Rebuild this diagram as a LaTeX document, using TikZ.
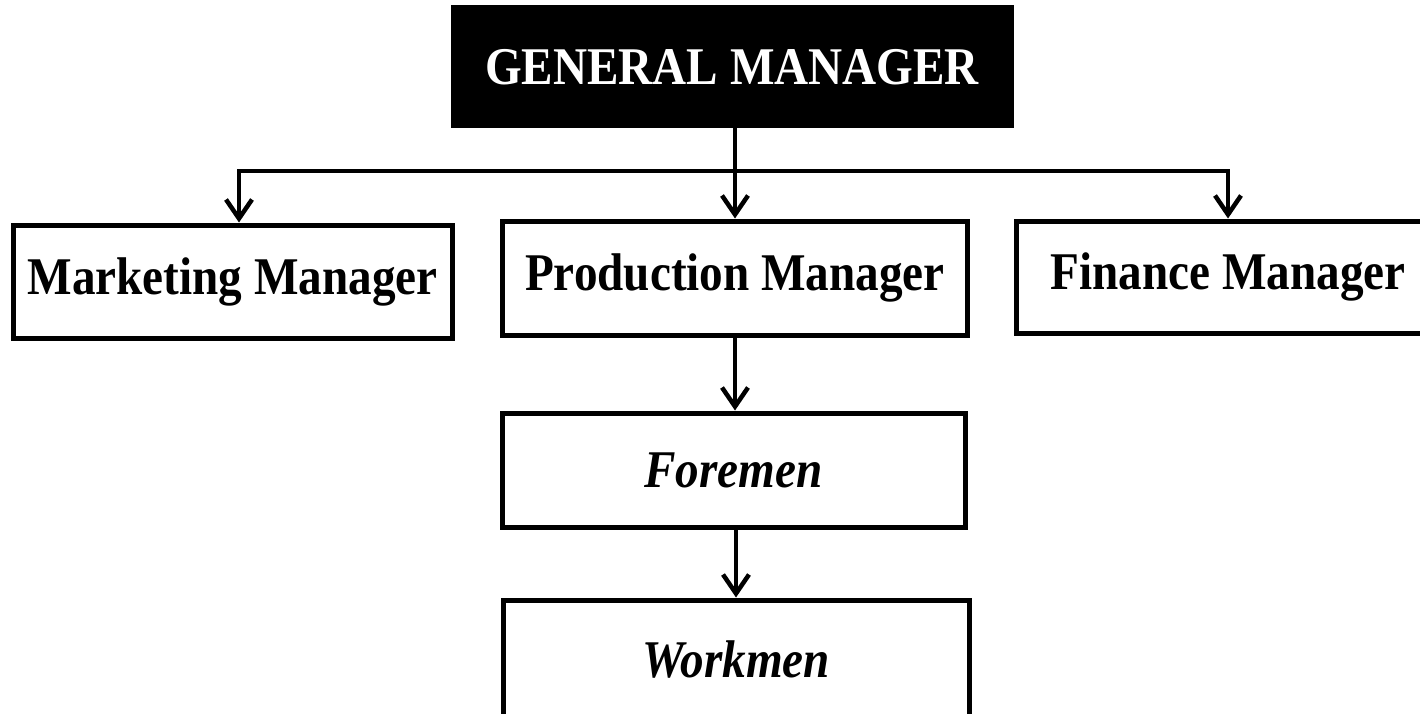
\documentclass[tikz,border=0pt]{standalone}
\usepackage{fontspec}
\setmainfont{Liberation Serif}[FakeStretch=0.89]
\usetikzlibrary{arrows.meta}
\begin{document}
\begin{tikzpicture}[x=1pt,y=-1pt,
  orgbox/.style={draw=black, line width=5pt, inner sep=0pt, fill=white,
    font=\fontsize{53}{60}\selectfont\bfseries, text=black},
  headbox/.style={orgbox, fill=black, text=white},
  link/.style={draw=black, line width=4.5pt},
  tip/.style={-{Straight Barb[length=19pt,width=26pt]}}]
\useasboundingbox (0,0) rectangle (1420,714);
\clip (0,0) rectangle (1420,714);
\fill[white] (0,0) rectangle (1420,714);

% chart boxes
\node[headbox, minimum width=558pt, minimum height=118pt] (gm) at (732,67) {GENERAL MANAGER};
\node[orgbox, minimum width=439pt, minimum height=113pt] (mkt) at (232.5,281.5) {Marketing Manager};
\node[orgbox, minimum width=465pt, minimum height=114pt] (prod) at (735,278) {Production Manager};
\node[orgbox, minimum width=424pt, minimum height=112pt] (fin) at (1228,277) {Finance Manager};
\node[orgbox, minimum width=463pt, minimum height=114pt, font=\fontsize{53}{60}\selectfont\bfseries\itshape] (fore) at (733.5,470) {Foremen};
\node[orgbox, minimum width=466pt, minimum height=120pt, font=\fontsize{53}{60}\selectfont\bfseries\itshape] (work) at (736,660) {Workmen};

% bus corners
\coordinate (busL) at (239,171);
\coordinate (busR) at (1228,171);

% connectors
\draw[link, {Straight Barb[length=19pt,width=26pt]}-{Straight Barb[length=19pt,width=26pt]}]
  (busL |- mkt.north) -- (busL) -- (busR) -- (busR |- fin.north);
\draw[link, tip] (gm.south -| prod.north) -- (prod.north);
\draw[link, tip] (prod.south) -- (prod.south |- fore.north);
\draw[link, tip] (fore.south -| work.north) -- (work.north);
\end{tikzpicture}
\end{document}
